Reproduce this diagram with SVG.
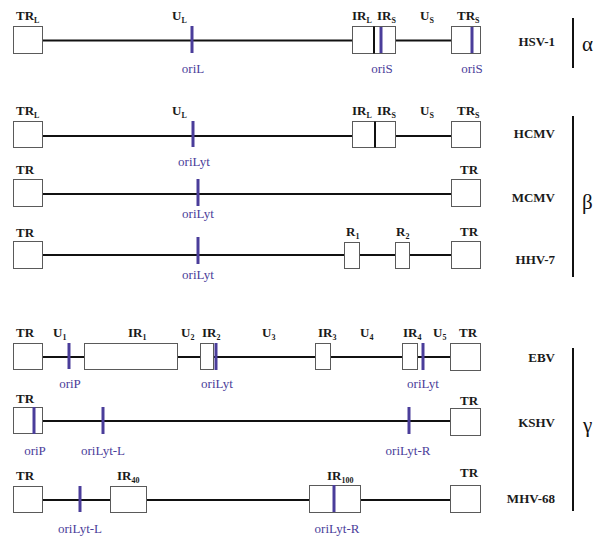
<svg xmlns="http://www.w3.org/2000/svg" width="594" height="538" viewBox="0 0 594 538">
<style>
.bx{fill:#fff;stroke:#5a5a5a;stroke-width:1}
.ln{stroke:#111;stroke-width:2;fill:none}
.dv{stroke:#111;stroke-width:2}
.tk{stroke:#4a3d9a;stroke-width:3}
text{font-family:'Liberation Serif','DejaVu Serif','Times New Roman',serif}
.lb{font-weight:bold;font-size:13px;fill:#1a1a1a}
.sb{font-size:8px}
.ori{font-size:13px;fill:#4a3d9a;text-anchor:middle}
.nm{font-weight:bold;font-size:13px;fill:#1a1a1a;text-anchor:end}
.gr{font-size:21px;fill:#111}
.br{stroke:#111;stroke-width:2}
</style>
<rect width="594" height="538" fill="#fff"/>
<g id="connectors">
<line class="ln" x1="43" y1="40.5" x2="352" y2="40.5"/>
<line class="ln" x1="396" y1="40.5" x2="451" y2="40.5"/>
<line class="ln" x1="43" y1="136" x2="352" y2="136"/>
<line class="ln" x1="396" y1="136" x2="451" y2="136"/>
<line class="ln" x1="43" y1="194" x2="451" y2="194"/>
<line class="ln" x1="43" y1="255" x2="451" y2="255"/>
<line class="ln" x1="43" y1="357" x2="450" y2="357"/>
<line class="ln" x1="43" y1="421" x2="450" y2="421"/>
<line class="ln" x1="43" y1="500" x2="450" y2="500"/>
</g>
<g id="hsv1">
<rect class="bx" x="13.5" y="26.5" width="29" height="27"/>
<rect class="bx" x="352.5" y="26.5" width="43" height="27"/>
<line class="dv" x1="374" y1="26.5" x2="374" y2="53.5"/>
<rect class="bx" x="451.5" y="26.5" width="29" height="27"/>
<line class="tk" x1="192" y1="26" x2="192" y2="53"/>
<line class="tk" x1="381" y1="27" x2="381" y2="53"/>
<line class="tk" x1="472" y1="27" x2="472" y2="53"/>
<text class="lb" x="16" y="20">TR<tspan class="sb" dy="3">L</tspan></text>
<text class="lb" x="172" y="20">U<tspan class="sb" dy="3">L</tspan></text>
<text class="lb" x="352" y="20">IR<tspan class="sb" dy="3">L</tspan></text>
<text class="lb" x="377" y="20">IR<tspan class="sb" dy="3">S</tspan></text>
<text class="lb" x="420" y="20">U<tspan class="sb" dy="3">S</tspan></text>
<text class="lb" x="457" y="20">TR<tspan class="sb" dy="3">S</tspan></text>
<text class="ori" x="193" y="73">oriL</text>
<text class="ori" x="382" y="73">oriS</text>
<text class="ori" x="472" y="73">oriS</text>
<text class="nm" x="555" y="46">HSV-1</text>
</g>
<g id="hcmv">
<rect class="bx" x="13.5" y="121.5" width="29" height="26"/>
<rect class="bx" x="352.5" y="121.5" width="43" height="26"/>
<line class="dv" x1="375" y1="121.5" x2="375" y2="147.5"/>
<rect class="bx" x="451.5" y="121.5" width="29" height="26"/>
<line class="tk" x1="193" y1="121" x2="193" y2="147"/>
<text class="lb" x="16" y="115">TR<tspan class="sb" dy="3">L</tspan></text>
<text class="lb" x="172" y="115">U<tspan class="sb" dy="3">L</tspan></text>
<text class="lb" x="352" y="115">IR<tspan class="sb" dy="3">L</tspan></text>
<text class="lb" x="377" y="115">IR<tspan class="sb" dy="3">S</tspan></text>
<text class="lb" x="420" y="115">U<tspan class="sb" dy="3">S</tspan></text>
<text class="lb" x="457" y="115">TR<tspan class="sb" dy="3">S</tspan></text>
<text class="ori" x="194" y="166">oriLyt</text>
<text class="nm" x="555" y="138">HCMV</text>
</g>
<g id="mcmv">
<rect class="bx" x="13.5" y="179.5" width="29" height="27"/>
<rect class="bx" x="451.5" y="179.5" width="29" height="27"/>
<line class="tk" x1="198" y1="179" x2="198" y2="206"/>
<text class="lb" x="16" y="174">TR</text>
<text class="lb" x="460" y="174">TR</text>
<text class="ori" x="198" y="218">oriLyt</text>
<text class="nm" x="555" y="202">MCMV</text>
</g>
<g id="hhv7">
<rect class="bx" x="13.5" y="241.5" width="29" height="27"/>
<rect class="bx" x="344.5" y="242.5" width="15" height="26"/>
<rect class="bx" x="395.5" y="242.5" width="14" height="26"/>
<rect class="bx" x="451.5" y="241.5" width="29" height="27"/>
<line class="tk" x1="198" y1="237" x2="198" y2="264"/>
<text class="lb" x="16" y="237">TR</text>
<text class="lb" x="346" y="236">R<tspan class="sb" dy="3">1</tspan></text>
<text class="lb" x="396" y="236">R<tspan class="sb" dy="3">2</tspan></text>
<text class="lb" x="460" y="236">TR</text>
<text class="ori" x="198" y="279">oriLyt</text>
<text class="nm" x="555" y="264">HHV-7</text>
</g>
<g id="ebv">
<rect class="bx" x="13.5" y="343.5" width="29" height="26"/>
<rect class="bx" x="84.5" y="343.5" width="93" height="26"/>
<rect class="bx" x="200.5" y="343.5" width="13" height="26"/>
<rect class="bx" x="315.5" y="343.5" width="15" height="26"/>
<rect class="bx" x="402.5" y="343.5" width="15" height="26"/>
<rect class="bx" x="450.5" y="343.5" width="30" height="27"/>
<line class="tk" x1="69" y1="343" x2="69" y2="369"/>
<line class="tk" x1="216" y1="343" x2="216" y2="370"/>
<line class="tk" x1="423" y1="343" x2="423" y2="370"/>
<text class="lb" x="16" y="337">TR</text>
<text class="lb" x="53" y="337">U<tspan class="sb" dy="3">1</tspan></text>
<text class="lb" x="128" y="337">IR<tspan class="sb" dy="3">1</tspan></text>
<text class="lb" x="181" y="337">U<tspan class="sb" dy="3">2</tspan></text>
<text class="lb" x="202" y="337">IR<tspan class="sb" dy="3">2</tspan></text>
<text class="lb" x="262" y="337">U<tspan class="sb" dy="3">3</tspan></text>
<text class="lb" x="318" y="337">IR<tspan class="sb" dy="3">3</tspan></text>
<text class="lb" x="360" y="337">U<tspan class="sb" dy="3">4</tspan></text>
<text class="lb" x="403" y="337">IR<tspan class="sb" dy="3">4</tspan></text>
<text class="lb" x="433" y="337">U<tspan class="sb" dy="3">5</tspan></text>
<text class="lb" x="459" y="337">TR</text>
<text class="ori" x="70" y="388">oriP</text>
<text class="ori" x="217" y="388">oriLyt</text>
<text class="ori" x="423" y="388">oriLyt</text>
<text class="nm" x="555" y="362">EBV</text>
</g>
<g id="kshv">
<rect class="bx" x="13.5" y="407.5" width="29" height="26"/>
<rect class="bx" x="450.5" y="408.5" width="30" height="27"/>
<line class="tk" x1="34" y1="407" x2="34" y2="434"/>
<line class="tk" x1="103" y1="407" x2="103" y2="434"/>
<line class="tk" x1="409" y1="407" x2="409" y2="434"/>
<text class="lb" x="16" y="403">TR</text>
<text class="lb" x="460" y="405">TR</text>
<text class="ori" x="35" y="455">oriP</text>
<text class="ori" x="103" y="455">oriLyt-L</text>
<text class="ori" x="408" y="455">oriLyt-R</text>
<text class="nm" x="555" y="427">KSHV</text>
</g>
<g id="mhv68">
<rect class="bx" x="13.5" y="486.5" width="29" height="26"/>
<rect class="bx" x="110.5" y="486.5" width="36" height="26"/>
<rect class="bx" x="309.5" y="485.5" width="51" height="27"/>
<rect class="bx" x="450.5" y="485.5" width="30" height="27"/>
<line class="tk" x1="80" y1="486" x2="80" y2="512"/>
<line class="tk" x1="334" y1="485" x2="334" y2="512"/>
<text class="lb" x="16" y="480">TR</text>
<text class="lb" x="117" y="480">IR<tspan class="sb" dy="3">40</tspan></text>
<text class="lb" x="327" y="480">IR<tspan class="sb" dy="3">100</tspan></text>
<text class="lb" x="460" y="477">TR</text>
<text class="ori" x="80" y="533">oriLyt-L</text>
<text class="ori" x="337" y="533">oriLyt-R</text>
<text class="nm" x="555" y="503">MHV-68</text>
</g>
<g id="groups">
<line class="br" x1="573" y1="18" x2="573" y2="68"/>
<text class="gr" x="582" y="51">α</text>
<line class="br" x1="573" y1="116" x2="573" y2="277"/>
<text class="gr" x="582" y="209">β</text>
<line class="br" x1="573" y1="348" x2="573" y2="511"/>
<text class="gr" x="583" y="432">γ</text>
</g>
</svg>
